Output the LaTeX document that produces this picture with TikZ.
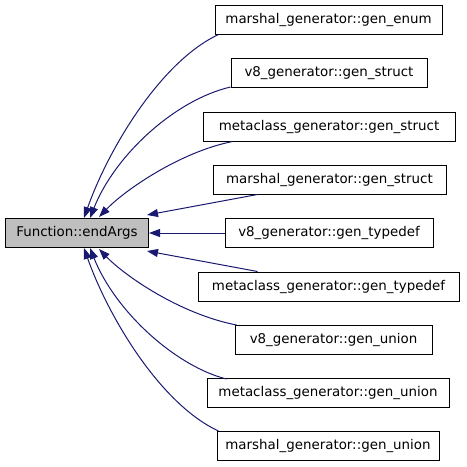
\documentclass[tikz,border=0pt]{standalone}
\usepackage{fontspec}
\setmainfont{DejaVu Sans}
\usetikzlibrary{arrows.meta,calc}
\definecolor{edgeblue}{HTML}{191970}
\definecolor{mainfill}{HTML}{BFBFBF}
\begin{document}
\begin{tikzpicture}[x=1pt,y=-1pt,
  box/.style={draw=black,line width=1pt,fill=white,minimum height=29pt,inner xsep=6pt,inner ysep=0pt,font=\fontsize{13.4}{15}\selectfont},
  mainbox/.style={box,fill=mainfill},
  edge/.style={draw=edgeblue,line width=1pt,-{Triangle[length=11pt,width=8pt]}}]
\useasboundingbox (0,0) rectangle (467,467);
\node[mainbox,minimum width=143pt] (main) at (77,233) {Function::endArgs};
\node[box,minimum width=227pt] (n1) at (328.5,19.5) {marshal\_generator::gen\_enum};
\node[box,minimum width=196pt] (n2) at (329,73) {v8\_generator::gen\_struct};
\node[box,minimum width=252pt] (n3) at (329,126.5) {metaclass\_generator::gen\_struct};
\node[box,minimum width=233pt] (n4) at (329.5,179.5) {marshal\_generator::gen\_struct};
\node[box,minimum width=208pt] (n5) at (329,233) {v8\_generator::gen\_typedef};
\node[box,minimum width=261pt] (n6) at (328.5,286.5) {metaclass\_generator::gen\_typedef};
\node[box,minimum width=197pt] (n7) at (333.5,340) {v8\_generator::gen\_union};
\node[box,minimum width=242pt] (n8) at (328,393) {metaclass\_generator::gen\_union};
\node[box,minimum width=222pt] (n9) at (328,446) {marshal\_generator::gen\_union};
% top edges
\draw[edge] ($(n1.south west)+(4,0)$) .. controls (160,62) and (108,150) .. ($(main.north west)+(79,0)$);
\draw[edge] ($(n2.south west)+(0,-1)$) .. controls (175,100) and (115,155) .. ($(main.north west)+(85,0)$);
\draw[edge] ($(n3.south west)+(30,0)$) .. controls (180,152) and (125,190) .. ($(main.north west)+(94,-1)$);
\draw[edge] ($(n4.south west)+(45,0)$) -- ($(main.north east)+(-2,-3)$);
\draw[edge] (n5.west) -- (main.east);
\draw[edge] ($(n6.north west)+(60,0)$) -- ($(main.south east)+(-2,3)$);
\draw[edge] ($(n7.north west)+(2,0)$) .. controls (180,314) and (125,276) .. ($(main.south west)+(94,1)$);
\draw[edge] ($(n8.north west)+(20,1)$) .. controls (175,366) and (115,311) .. ($(main.south west)+(85,0)$);
\draw[edge] ($(n9.north west)+(2,0)$) .. controls (160,404) and (108,316) .. ($(main.south west)+(79,0)$);
\end{tikzpicture}
\end{document}
